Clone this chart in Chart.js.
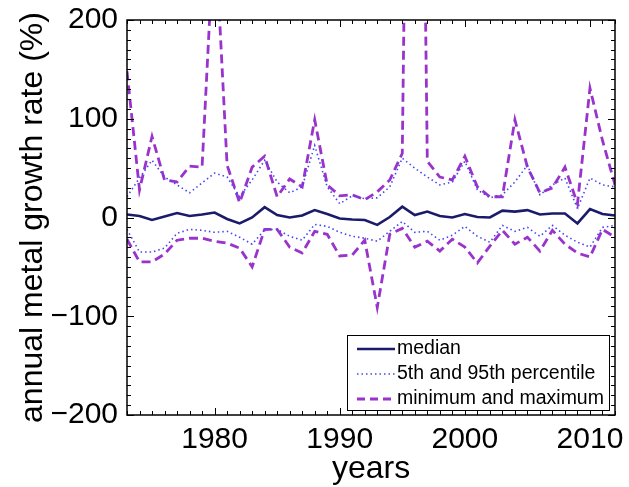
<!DOCTYPE html>
<html>
<head>
<meta charset="utf-8">
<script src="https://cdn.jsdelivr.net/npm/chart.js@4.4.1/dist/chart.umd.min.js"></script>
<style>
  html, body { margin: 0; padding: 0; background: #ffffff; }
  #wrap { width: 629px; height: 487px; position: relative; }
</style>
</head>
<body>
<div id="wrap"><canvas id="c" width="629" height="487"></canvas></div>
<script>
const years = [];
for (let y = 1973; y <= 2012; y++) years.push(y);

const median = [3, 1.5, -2.5, 1, 4.5, 1.5, 3, 5, -1.5, -6,
  0, 10.5, 2.5, 0, 2, 7.5, 3.5, -1, -2, -2.5,
  -7.5, 0.5, 11, 2.5, 6, 1.5, 0, 3.5, 0.5, 0,
  7, 6, 7.5, 3, 4, 4, -6, 8.5, 3.5, 2];

const p95 = [21, 40, 58, 41, 33, 25, 35, 45, 41, 21,
  38, 58, 36, 25, 31, 73, 31, 14, 22, 19,
  20, 31, 60, 50, 41, 33, 36, 57, 28, 20,
  23, 36, 53, 23, 33, 40, 9, 40, 33, 31];

const p5 = [-12, -35, -35, -31, -16, -12, -13, -15, -14, -20,
  -27, -12.5, -12, -19, -23, -7, -9, -15, -19, -21,
  -24, -14, -4, -15, -14, -23, -18, -9, -19, -25,
  -8, -14, -10, -19, -8, -18, -25, -30, -10, -8];

const maxima = [148, 28, 82, 38, 36, 52, 51, 300, 53, 15,
  51, 62, 21, 39, 31, 99, 33, 22, 23, 18,
  26, 38, 65, 1100, 57, 41, 38, 62, 31, 21,
  21, 99, 51, 25, 30, 51, 14, 131, 78, 33];

const minima = [-22, -45, -45, -37, -23, -21, -21, -24, -26, -31,
  -50, -12, -12, -30, -36, -14, -17, -39, -38, -23,
  -91, -17, -11, -30, -24, -34, -22, -30, -46, -29,
  -13, -27, -20, -34, -13, -27, -36, -40, -12, -20];

const xTickLabels = [1980, 1990, 2000, 2010];
const yTickLabels = [-200, -100, 0, 100, 200];
const legendLabels = ['median', '5th and 95th percentile', 'minimum and maximum'];

const pts = arr => arr.map((v, i) => ({ x: years[i], y: v }));
const FONT = 'Liberation Sans, Arial, Helvetica, sans-serif';

const C_MED = '#1b1b6b';
const C_PCT = '#4646f0';
const C_MM = '#9933cc';

const datasets = [
  { label: legendLabels[0], data: pts(median), borderColor: C_MED, borderWidth: 2.6, legendIdx: 0 },
  { label: legendLabels[1], data: pts(p95), borderColor: C_PCT, borderWidth: 1.6, borderDash: [1.5, 3], legendIdx: 1 },
  { label: legendLabels[1], data: pts(p5), borderColor: C_PCT, borderWidth: 1.6, borderDash: [1.5, 3] },
  { label: legendLabels[2], data: pts(maxima), borderColor: C_MM, borderWidth: 2.8, borderDash: [9, 5], legendIdx: 2 },
  { label: legendLabels[2], data: pts(minima), borderColor: C_MM, borderWidth: 2.8, borderDash: [9, 5] }
].map(d => Object.assign({ pointRadius: 0, tension: 0, fill: false, borderCapStyle: 'butt' }, d));

const frameTicks = {
  id: 'frameTicks',
  afterDatasetsDraw(chart) {
    const { ctx, chartArea: a, scales: { x, y } } = chart;
    ctx.save();
    ctx.strokeStyle = '#000';
    ctx.lineWidth = 1;
    const maj = 7, mnr = 4;
    for (let yr = 1973; yr <= 2012; yr++) {
      const px = Math.round(x.getPixelForValue(yr)) + 0.5;
      const L = (yr % 10 === 0) ? maj : mnr;
      ctx.beginPath();
      ctx.moveTo(px, a.bottom); ctx.lineTo(px, a.bottom - L);
      ctx.moveTo(px, a.top); ctx.lineTo(px, a.top + L);
      ctx.stroke();
    }
    for (let v = -200; v <= 200; v += 10) {
      const py = Math.round(y.getPixelForValue(v)) + 0.5;
      const L = (v % 100 === 0) ? maj : mnr;
      ctx.beginPath();
      ctx.moveTo(a.left, py); ctx.lineTo(a.left + L, py);
      ctx.moveTo(a.right, py); ctx.lineTo(a.right - L, py);
      ctx.stroke();
    }
    ctx.lineWidth = 1.5;
    ctx.strokeRect(a.left, a.top, a.right - a.left, a.bottom - a.top);

    // legend box
    const bx = 347, bw = a.right - 6 - bx;
    const by = a.bottom - 80, bh = 75;
    ctx.fillStyle = '#fff';
    ctx.fillRect(bx, by, bw, bh);
    ctx.lineWidth = 1;
    ctx.strokeRect(bx + 0.5, by + 0.5, bw, bh);
    ctx.font = '19.5px ' + FONT;
    ctx.textBaseline = 'middle';
    ctx.textAlign = 'left';
    chart.data.datasets.forEach(ds => {
      if (ds.legendIdx === undefined) return;
      const rowY = by + 14 + ds.legendIdx * 25;
      ctx.save();
      ctx.strokeStyle = ds.borderColor;
      ctx.lineWidth = ds.borderWidth;
      ctx.setLineDash(ds.legendIdx === 2 ? [8, 5] : (ds.borderDash || []));
      ctx.beginPath();
      ctx.moveTo(bx + 10, rowY); ctx.lineTo(bx + 48, rowY);
      ctx.stroke();
      ctx.restore();
      ctx.fillStyle = '#000';
      ctx.fillText(ds.label, bx + 50, rowY);
    });
    ctx.restore();
  }
};

new Chart(document.getElementById('c'), {
  type: 'line',
  data: { datasets },
  options: {
    responsive: false,
    animation: false,
    layout: { padding: { left: 0, top: 20, right: 14, bottom: 0 } },
    plugins: { legend: { display: false }, tooltip: { enabled: false } },
    scales: {
      x: {
        type: 'linear', min: 1973, max: 2012,
        afterBuildTicks: s => { s.ticks = xTickLabels.map(v => ({ value: v })); },
        afterFit: s => { s.height = 72; s.paddingLeft = 0; s.paddingRight = 0; },
        grid: { display: false, drawTicks: false },
        border: { display: false },
        ticks: { autoSkip: false, maxRotation: 0, padding: 7, color: '#000',
                 font: { family: FONT, size: 30 }, callback: v => String(v) },
        title: { display: true, text: 'years', color: '#000',
                 font: { family: FONT, size: 32, lineHeight: 1 }, padding: { top: 0, bottom: 2 } }
      },
      y: {
        type: 'linear', min: -200, max: 200,
        afterBuildTicks: s => { s.ticks = yTickLabels.map(v => ({ value: v })); },
        afterFit: s => { s.width = 127; s.paddingTop = 0; s.paddingBottom = 0; },
        grid: { display: false, drawTicks: false },
        border: { display: false },
        ticks: { padding: 9, color: '#000', font: { family: FONT, size: 30 },
                 callback: v => (v < 0 ? '\u2212' + Math.abs(v) : String(v)) },
        title: { display: true, text: 'annual metal growth rate (%)', color: '#000',
                 font: { family: FONT, size: 32, lineHeight: 1 }, padding: { top: 17, bottom: 0 } }
      }
    }
  },
  plugins: [frameTicks]
});
</script>
</body>
</html>
